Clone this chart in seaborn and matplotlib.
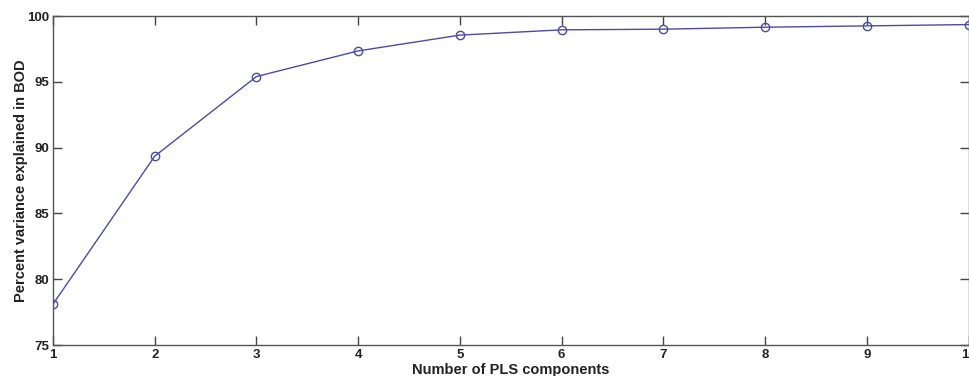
import pandas as pd
import matplotlib
matplotlib.use("Agg")
import matplotlib.pyplot as plt
import seaborn as sns

sns.set_style("ticks")
plt.rcParams['font.family'] = ['Liberation Sans', 'DejaVu Sans']

components = [1, 2, 3, 4, 5, 6, 7, 8, 9, 10]
variance_explained = [78.1, 89.35, 95.4, 97.35, 98.55, 98.95, 99.0, 99.15, 99.25, 99.35]

df = pd.DataFrame({"components": components, "variance": variance_explained})

fig = plt.figure(figsize=(9.7, 3.76), dpi=100)
ax = fig.add_axes([0.0546, 0.0824, 0.944, 0.875])

sns.lineplot(data=df, x="components", y="variance", ax=ax, color="#4b4ba6",
             linewidth=1.0, marker="o", markersize=6, markerfacecolor="none",
             markeredgecolor="#4b4ba6", markeredgewidth=1.0)

ax.set_xlim(1, 10)
ax.set_ylim(75, 100)
ax.set_xticks(components)
ax.set_yticks([75, 80, 85, 90, 95, 100])
ax.tick_params(direction="in", length=6.5, width=1, colors="#444444",
               top=True, right=True, labelsize=9.5, pad=3)
for lab in ax.get_xticklabels() + ax.get_yticklabels():
    lab.set_fontweight("bold")
    lab.set_color("#222222")
for sp in ax.spines.values():
    sp.set_color("#555555")
    sp.set_linewidth(1.0)

ax.set_xlabel("Number of PLS components", fontsize=10.5, fontweight="bold",
              color="#222222", labelpad=1)
ax.set_ylabel("Percent variance explained in BOD", fontsize=10.5, fontweight="bold",
              color="#222222")
ax.yaxis.set_label_coords(-0.027, 0.5)

fig.savefig("out.png", dpi=100)
